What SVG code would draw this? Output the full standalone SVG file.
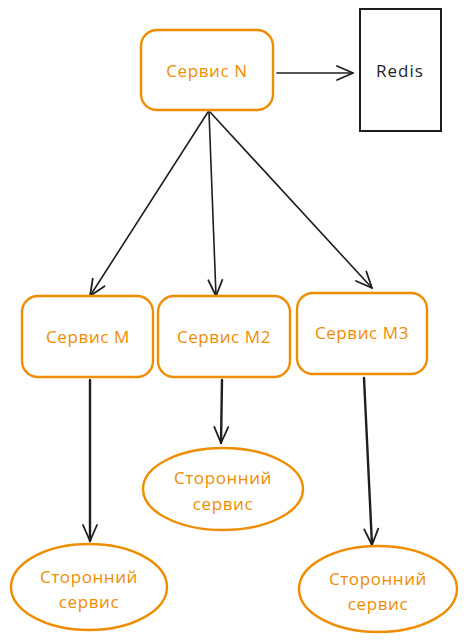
<svg xmlns="http://www.w3.org/2000/svg" width="468" height="641" viewBox="0 0 468 641">
<style>
.box{fill:#fff;stroke:#f08c00;stroke-width:2.4}
.lbl{font-family:"Open Sans","Liberation Sans",sans-serif;font-size:17px;fill:#f08c00;text-anchor:middle;dominant-baseline:central;letter-spacing:0.6px}
.blk{font-family:"Open Sans","Liberation Sans",sans-serif;font-size:17px;fill:#1e1e1e;text-anchor:middle;dominant-baseline:central;letter-spacing:1px}
.edge{fill:none;stroke:#1e1e1e;stroke-width:1.6;stroke-linecap:round}
.thick{stroke-width:2.4}
</style>
<defs>
<marker id="ah" viewBox="0 0 20 20" refX="18" refY="10" markerWidth="20" markerHeight="20" markerUnits="userSpaceOnUse" orient="auto">
<path d="M2,3 L18,10 L2,17" fill="none" stroke="#1e1e1e" stroke-width="1.8" stroke-linecap="round" stroke-linejoin="round"/>
</marker>
</defs>
<g id="connectors">
<path class="edge" d="M277,73 L353,73" marker-end="url(#ah)"/>
<path class="edge" d="M208,112 L90,296" marker-end="url(#ah)"/>
<path class="edge" d="M209,112 L216,296" marker-end="url(#ah)"/>
<path class="edge" d="M210,112 L372,288" marker-end="url(#ah)"/>
<path class="edge thick" d="M90,380 L90,541" marker-end="url(#ah)"/>
<path class="edge thick" d="M222,380 L221,443" marker-end="url(#ah)"/>
<path class="edge thick" d="M364,378 L372,545" marker-end="url(#ah)"/>
</g>
<g id="serviceN">
<rect class="box" x="141" y="30" width="132" height="80" rx="16"/>
<text class="lbl" x="207" y="70">Сервис N</text>
</g>
<g id="redis">
<rect x="360" y="9" width="81" height="122" fill="#fff" stroke="#1e1e1e" stroke-width="2"/>
<text class="blk" x="400" y="70">Redis</text>
</g>
<g id="serviceM">
<rect class="box" x="22" y="296" width="131" height="81" rx="16"/>
<text class="lbl" x="88" y="336">Сервис M</text>
</g>
<g id="serviceM2">
<rect class="box" x="158" y="296" width="132" height="81" rx="16"/>
<text class="lbl" x="224" y="336">Сервис M2</text>
</g>
<g id="serviceM3">
<rect class="box" x="297" y="293" width="130" height="81" rx="16"/>
<text class="lbl" x="362" y="332">Сервис M3</text>
</g>
<g id="ext1">
<ellipse class="box" cx="89" cy="587" rx="78" ry="43"/>
<text class="lbl" x="89" y="576">Сторонний</text>
<text class="lbl" x="89" y="601">сервис</text>
</g>
<g id="ext2">
<ellipse class="box" cx="223" cy="489" rx="80" ry="41"/>
<text class="lbl" x="223" y="477">Сторонний</text>
<text class="lbl" x="223" y="503">сервис</text>
</g>
<g id="ext3">
<ellipse class="box" cx="378" cy="589" rx="79" ry="43"/>
<text class="lbl" x="378" y="578">Сторонний</text>
<text class="lbl" x="378" y="603">сервис</text>
</g>
</svg>
